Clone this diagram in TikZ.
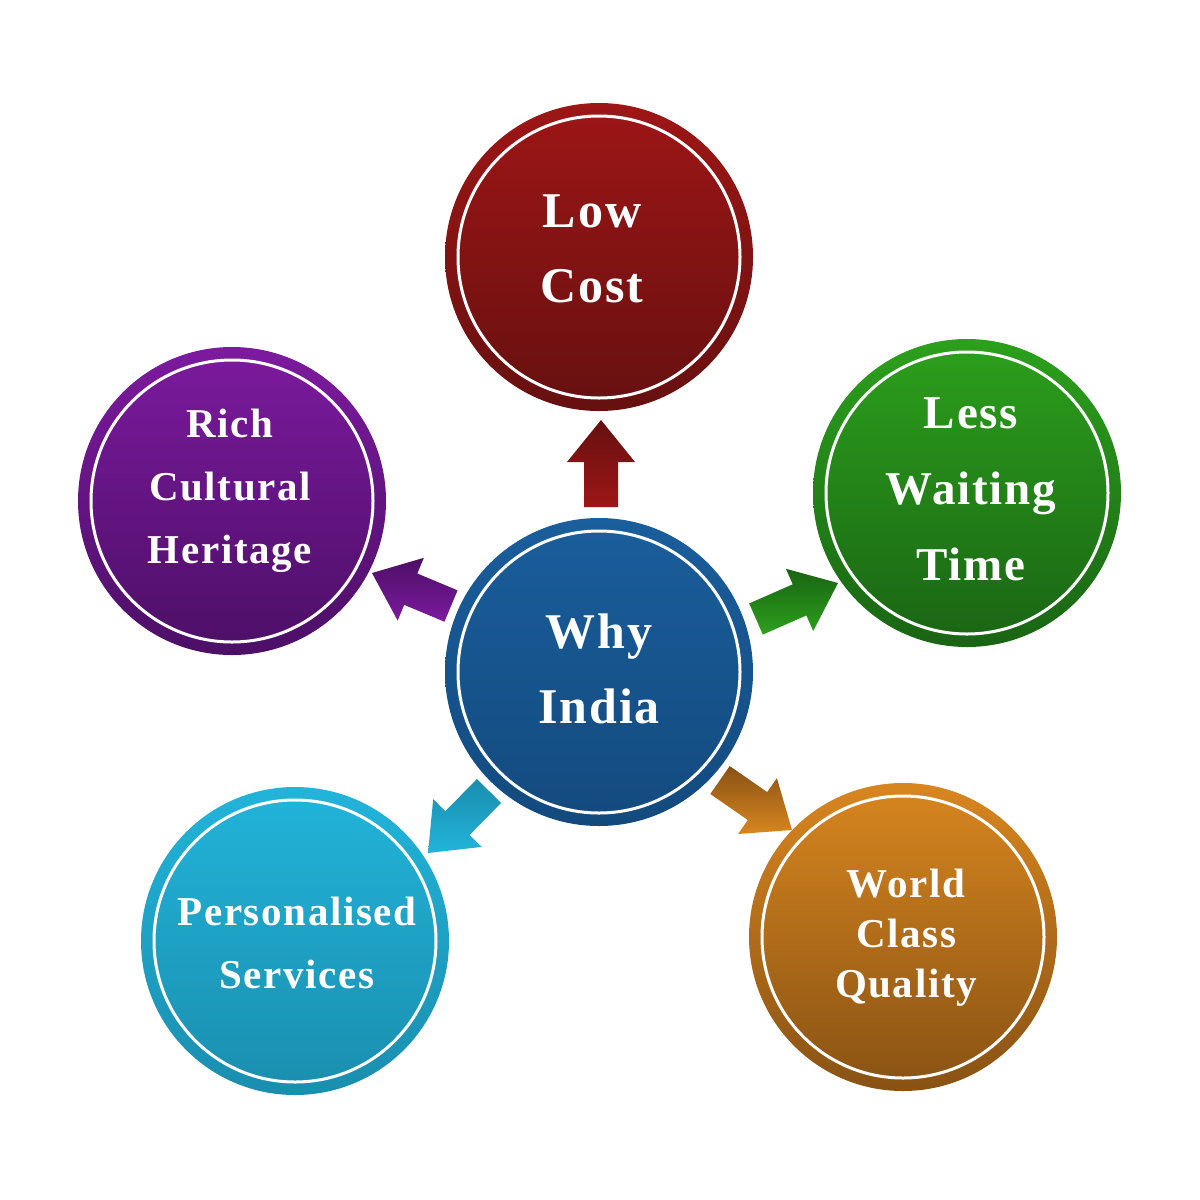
\documentclass[tikz,border=0pt]{standalone}
\usepackage{fontspec}
\newfontfamily\lblfont[LetterSpace=4]{Liberation Serif}
\usetikzlibrary{calc}
\definecolor{redT}{HTML}{9E1616}\definecolor{redB}{HTML}{661010}
\definecolor{bluT}{HTML}{1A5E9C}\definecolor{bluB}{HTML}{134A7E}
\definecolor{grnT}{HTML}{2CA01C}\definecolor{grnB}{HTML}{1A6414}
\definecolor{purT}{HTML}{7C1A9E}\definecolor{purB}{HTML}{4C0F66}
\definecolor{cyaT}{HTML}{22B4DA}\definecolor{cyaB}{HTML}{1A8EAE}
\definecolor{orgT}{HTML}{D8861F}\definecolor{orgB}{HTML}{885214}
\tikzset{
  bubble/.style={circle, minimum size=308pt, inner sep=0pt},
  ring/.style={draw=white, line width=3pt},
  lbl/.style={text=white, align=center, anchor=base, inner sep=0pt},
  lblA/.style={lbl, font=\lblfont\bfseries\fontsize{50}{75}\selectfont},
  lblB/.style={lbl, font=\lblfont\bfseries\fontsize{47}{76}\selectfont},
  lblC/.style={lbl, font=\lblfont\bfseries\fontsize{41}{63}\selectfont},
  lblD/.style={lbl, font=\lblfont\bfseries\fontsize{41}{50}\selectfont},
}
\newcommand\myarrow[4]{%
  \coordinate (hb) at ($(#2)!42pt!(#1)$);
  \shade[top color=#3, bottom color=#4]
    ($(#1)!17pt!90:(#2)$) -- ($(hb)!17pt!90:(#2)$) -- ($(hb)!34pt!90:(#2)$) -- (#2)
    -- ($(hb)!34pt!-90:(#2)$) -- ($(hb)!17pt!-90:(#2)$) -- ($(#1)!17pt!-90:(#2)$) -- cycle;
}
\begin{document}
\begin{tikzpicture}[x=1pt, y=-1pt]
\useasboundingbox (0,0) rectangle (1200,1200);
\fill[white] (0,0) rectangle (1200,1200);

% circles
\node[bubble, top color=redT, bottom color=redB] (lc) at (599,257) {};
\node[bubble, top color=grnT, bottom color=grnB] (lw) at (967,493) {};
\node[bubble, top color=purT, bottom color=purB] (rc) at (232,501) {};
\node[bubble, top color=cyaT, bottom color=cyaB] (ps) at (295,941) {};
\node[bubble, top color=orgT, bottom color=orgB] (wc) at (903,937) {};
\node[bubble, top color=bluT, bottom color=bluB] (wi) at (599,672) {};
\foreach \n in {lc,lw,rc,ps,wc,wi} \draw[ring] (\n.center) circle[radius=141];

% labels (anchor = baseline of the last line)
\node[lblA] (tlc) at (592,302) {Low\\Cost};
\node[lblA] (twi) at (599,723) {Why\\India};
\node[lblB] (tlw) at (971,580) {Less\\Waiting\\Time};
\node[lblC] (trc) at (230,563) {Rich\\Cultural\\Heritage};
\node[lblC] (tps) at (297,988) {Personalised\\Services};
\node[lblD] (twc) at (906,997) {World\\Class\\Quality};

% arrow ends
\coordinate (aRt) at (601,507); \coordinate (aRp) at (601,420);
\coordinate (aGt) at (756,619); \coordinate (aGp) at (838,583);
\coordinate (aOt) at (720,780); \coordinate (aOp) at (792,830);
\coordinate (aPt) at (451,606); \coordinate (aPp) at (372,573);
\coordinate (aCt) at (489,791); \coordinate (aCp) at (428,853);

\myarrow{aRt}{aRp}{redB}{redT}
\myarrow{aGt}{aGp}{grnB}{grnT}
\myarrow{aOt}{aOp}{orgB}{orgT}
\myarrow{aPt}{aPp}{purB}{purT}
\myarrow{aCt}{aCp}{cyaB}{cyaT}
\end{tikzpicture}
\end{document}
